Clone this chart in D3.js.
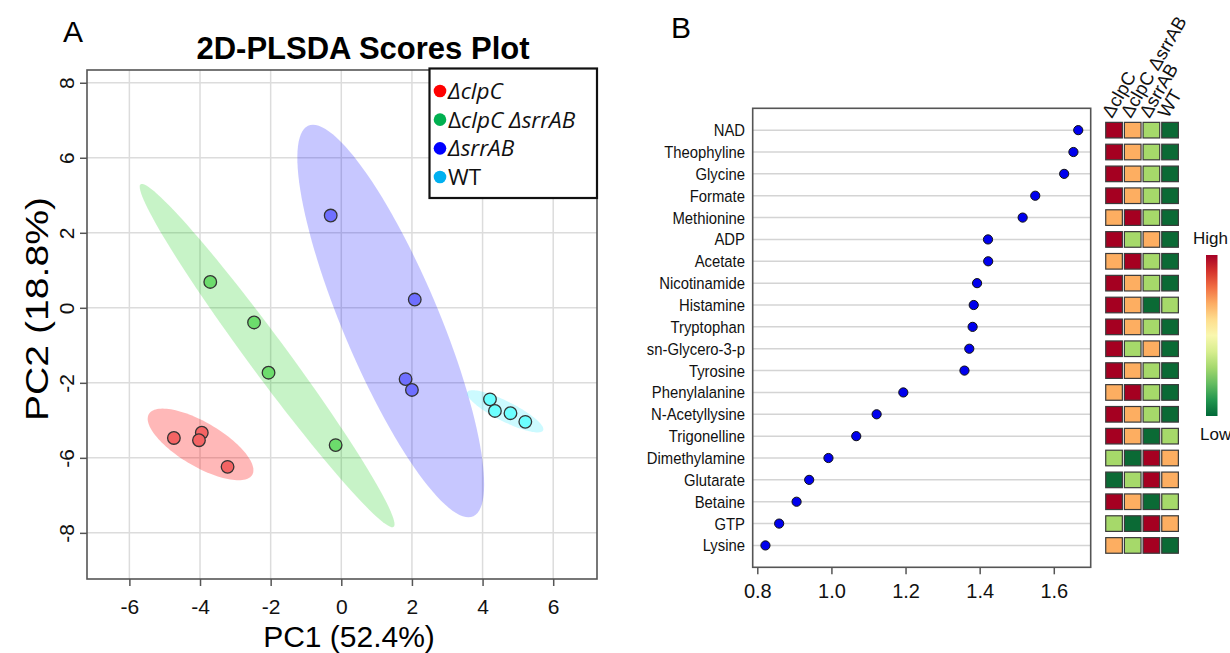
<!DOCTYPE html>
<html><head><meta charset="utf-8">
<script src="https://cdn.jsdelivr.net/npm/d3@7"></script>
<style>
body{margin:0;background:#fff;}
svg{display:block;font-family:"Liberation Sans",Arial,sans-serif;}
</style></head>
<body><svg id="c" width="1230" height="653"></svg>
<script>
// ---------- Panel A data ----------
const groups = ["ΔclpC", "ΔclpC ΔsrrAB", "ΔsrrAB", "WT"];
const groupColors = ["#ff0000", "#00b050", "#0000ff", "#00b0f0"];
const pointFill = ["#f46464", "#6cdc6c", "#6f6fff", "#6cffff"];
const ellipseFill = ["rgba(255,0,0,0.28)", "rgba(0,200,0,0.22)", "rgba(0,0,255,0.22)", "rgba(0,230,255,0.2)"];
const pointGroup = [0,0,0,0, 1,1,1,1, 2,2,2,2, 3,3,3,3];
const pointPC1 = [-4.74,-3.95,-4.03,-3.22, -3.71,-2.47,-2.06,-0.16, -0.30,2.08,1.82,2.00, 4.21,4.35,4.79,5.21];
const pointPC2 = [-3.47,-3.33,-3.53,-4.24, 0.69,-0.39,-1.73,-3.66, 2.46,0.22,-1.90,-2.19, -2.44,-2.75,-2.81,-3.04];
// 95% ellipse: semi-axes and rotation (data units / degrees)
const ellSemiMajor = [1.673, 5.804, 5.706, 1.189];
const ellSemiMinor = [0.596, 0.527, 1.346, 0.27];
const ellAngle = [-28.55, -51.87, -65.76, -25.24];
const xTicksA = [-6,-4,-2,0,2,4,6];
const yTicksA = [6,4,2,0,-2,-4,-6];
const yTickLabelsA = ["8","6","2","0","-2","-6","-8"];

// ---------- Panel B data ----------
const metabolites = ["NAD","Theophyline","Glycine","Formate","Methionine","ADP","Acetate","Nicotinamide","Histamine","Tryptophan","sn-Glycero-3-p","Tyrosine","Phenylalanine","N-Acetyllysine","Trigonelline","Dimethylamine","Glutarate","Betaine","GTP","Lysine"];
const vipScores = [1.666,1.653,1.628,1.550,1.516,1.4225,1.423,1.393,1.384,1.381,1.372,1.359,1.194,1.122,1.067,0.992,0.940,0.906,0.859,0.822];
const xTicksB = [0.8,1.0,1.2,1.4,1.6];
// heat level per metabolite for [ΔclpC, ΔclpC ΔsrrAB, ΔsrrAB, WT]: 4 = high ... 1 = low
const heatLevels = [
 [4,3,2,1],[4,3,2,1],[4,3,2,1],[4,3,2,1],[3,4,2,1],
 [4,2,3,1],[3,4,2,1],[4,3,2,1],[4,3,1,2],[4,3,2,1],
 [4,2,3,1],[4,3,2,1],[3,4,2,1],[4,3,2,1],[4,3,1,2],
 [2,1,4,3],[1,2,4,3],[4,3,1,2],[2,1,4,3],[3,2,4,1]
];
const heatColors = ["#0b6a35","#a6d96a","#fdae61","#a50021"];

const svg = d3.select("#c");

// ================= Panel A =================
const A = {l:87, r:597, t:70, b:579};
const xA = d3.scaleLinear().domain([-7.2, 7.24]).range([A.l, A.r]);
const yA = d3.scaleLinear().domain([-7.23, 6.34]).range([A.b, A.t]);

svg.append("text").attr("x",63).attr("y",42).attr("font-size",30).text("A");
svg.append("text").attr("x",363).attr("y",59).attr("text-anchor","middle")
  .attr("font-size",31).attr("font-weight","bold").text("2D-PLSDA Scores Plot");

const gA = svg.append("g");
// grid
gA.selectAll(".vg").data(xTicksA).join("line")
  .attr("x1",d=>xA(d)).attr("x2",d=>xA(d)).attr("y1",A.t).attr("y2",A.b)
  .attr("stroke","#dcdcdc").attr("stroke-width",1.5);
gA.selectAll(".hg").data(yTicksA).join("line")
  .attr("y1",d=>yA(d)).attr("y2",d=>yA(d)).attr("x1",A.l).attr("x2",A.r)
  .attr("stroke","#dcdcdc").attr("stroke-width",1.5);

// ellipses
const ellData = groups.map((g,i)=>{
  const idx = pointGroup.map((p,j)=>p===i?j:-1).filter(j=>j>=0);
  const cx = d3.mean(idx, j=>pointPC1[j]);
  const cy = d3.mean(idx, j=>pointPC2[j]);
  const phi = ellAngle[i]*Math.PI/180, a = ellSemiMajor[i], b = ellSemiMinor[i];
  const pts = d3.range(0, 361, 3).map(deg=>{
    const t = deg*Math.PI/180;
    const dx = a*Math.cos(t)*Math.cos(phi) - b*Math.sin(t)*Math.sin(phi);
    const dy = a*Math.cos(t)*Math.sin(phi) + b*Math.sin(t)*Math.cos(phi);
    return [xA(cx+dx), yA(cy+dy)];
  });
  return {i, pts};
});
gA.selectAll(".ell").data(ellData).join("path")
  .attr("d", d=>d3.line().curve(d3.curveLinearClosed)(d.pts))
  .attr("fill", d=>ellipseFill[d.i]).attr("stroke","none");

// points
gA.selectAll(".pt").data(pointPC1.map((v,j)=>j)).join("circle")
  .attr("cx", j=>xA(pointPC1[j])).attr("cy", j=>yA(pointPC2[j])).attr("r",6.3)
  .attr("fill", j=>pointFill[pointGroup[j]]).attr("stroke","#333").attr("stroke-width",1.3);

// frame
gA.append("rect").attr("x",A.l).attr("y",A.t).attr("width",A.r-A.l).attr("height",A.b-A.t)
  .attr("fill","none").attr("stroke","#555").attr("stroke-width",1.6);

// axes
const axB = gA.append("g").attr("transform",`translate(0,${A.b})`)
  .call(d3.axisBottom(xA).tickValues(xTicksA).tickSize(7).tickSizeOuter(0).tickFormat(d3.format("d")));
axB.select(".domain").remove();
axB.selectAll("line").attr("stroke","#555").attr("stroke-width",1.5);
axB.selectAll("text").attr("font-size",21).attr("fill","#111").attr("dy",null).attr("y",35)
  .text(d=>d<0?"-"+Math.abs(d):d);

const axL = gA.append("g").attr("transform",`translate(${A.l},0)`)
  .call(d3.axisLeft(yA).tickValues(yTicksA).tickSize(7).tickSizeOuter(0)
    .tickFormat((d,i)=>yTickLabelsA[i]));
axL.select(".domain").remove();
axL.selectAll("line").attr("stroke","#555").attr("stroke-width",1.5);
axL.selectAll("text").attr("font-size",21).attr("fill","#111")
  .attr("x",null).attr("dy",null).attr("text-anchor","middle")
  .attr("transform","translate(-13,0) rotate(-90)");

svg.append("text").attr("transform","translate(48,309) rotate(-90)").attr("text-anchor","middle")
  .attr("font-size",31).attr("textLength",224).attr("lengthAdjust","spacingAndGlyphs").text("PC2 (18.8%)");
svg.append("text").attr("x",349).attr("y",647).attr("text-anchor","middle")
  .attr("font-size",30).text("PC1 (52.4%)");

// legend
const leg = svg.append("g");
leg.append("rect").attr("x",429.5).attr("y",68.5).attr("width",167.5).attr("height",129.5)
  .attr("fill","#fff").attr("stroke","#111").attr("stroke-width",2.2);
const legY = d3.scalePoint().domain(groups).range([91,177]);
leg.selectAll(".lc").data(groups).join("circle")
  .attr("cx",440).attr("cy",d=>legY(d)).attr("r",6.3)
  .attr("fill",(d,i)=>groupColors[i]);
const legTexts = leg.selectAll(".lt").data(groups).join("text")
  .attr("x",448).attr("y",d=>legY(d)+8).attr("font-size",22.5).attr("fill","#111")
  .attr("font-family","'Open Sans','Liberation Sans',sans-serif");
legTexts.each(function(d){
  const t = d3.select(this);
  if (d === "WT") { t.text(d); return; }
  const parts = d.split(" ");
  parts.forEach((p,k)=>{
    if (k>0) t.append("tspan").text(" ");
    t.append("tspan").attr("font-style", (k===0 && parts.length===1) || k>0 ? "italic" : "normal").text(p[0]);
    t.append("tspan").attr("font-style","italic").text(p.slice(1));
  });
});

// ================= Panel B =================
const B = {l:752.7, r:1090.7, t:108.3, b:567.3};
const xB = d3.scaleLinear().domain([0.7876, 1.6996]).range([B.l, B.r]);
const yB = d3.scalePoint().domain(metabolites).range([B.t, B.b]).padding(1);

svg.append("text").attr("x",671).attr("y",38).attr("font-size",30).text("B");

const gB = svg.append("g");
gB.selectAll(".rg").data(metabolites).join("line")
  .attr("x1",B.l).attr("x2",B.r).attr("y1",d=>yB(d)).attr("y2",d=>yB(d))
  .attr("stroke","#d4d4d4").attr("stroke-width",1.5);
gB.append("rect").attr("x",B.l).attr("y",B.t).attr("width",B.r-B.l).attr("height",B.b-B.t)
  .attr("fill","none").attr("stroke","#555").attr("stroke-width",1.6);
gB.selectAll(".dot").data(metabolites).join("circle")
  .attr("cx",(d,i)=>xB(vipScores[i])).attr("cy",d=>yB(d)).attr("r",4.6)
  .attr("fill","#0000ee").attr("stroke","#111").attr("stroke-width",1);
gB.selectAll(".ml").data(metabolites).join("text")
  .attr("transform",d=>`translate(745,${yB(d)+6}) scale(0.9,1)`).attr("text-anchor","end")
  .attr("font-size",16.5).attr("fill","#111").text(d=>d);

const axBB = gB.append("g").attr("transform",`translate(0,${B.b})`)
  .call(d3.axisBottom(xB).tickValues(xTicksB).tickSize(7).tickSizeOuter(0).tickFormat(d3.format(".1f")));
axBB.select(".domain").remove();
axBB.selectAll("line").attr("stroke","#555").attr("stroke-width",1.5);
axBB.selectAll("text").attr("font-size",20).attr("fill","#111").attr("dy",null).attr("y",31);

// heatmap
const xH = d3.scaleBand().domain(groups).range([1104.7,1179.4]).paddingInner(0.11).paddingOuter(0.055);
const cellH = 15.6;
const hm = svg.append("g");
metabolites.forEach((m,r)=>{
  hm.selectAll(".c"+r).data(groups).join("rect")
    .attr("x",g=>xH(g)).attr("y",yB(m)-cellH/2).attr("width",xH.bandwidth()).attr("height",cellH)
    .attr("fill",(g,c)=>heatColors[heatLevels[r][c]-1]).attr("stroke","#3a3a3a").attr("stroke-width",1.2);
});
hm.selectAll(".hl").data(groups).join("text")
  .attr("transform",g=>`translate(${xH(g)+xH.bandwidth()/2-2},119) rotate(-60)`)
  .attr("font-size",18.5).attr("fill","#111").text(g=>g);

// colour key
const defs = svg.append("defs");
const grad = defs.append("linearGradient").attr("id","rg").attr("x1",0).attr("x2",0).attr("y1",0).attr("y2",1);
d3.range(0,1.0001,0.1).forEach(t=>{
  grad.append("stop").attr("offset",t).attr("stop-color",d3.interpolateRdYlGn(t));
});
svg.append("rect").attr("x",1206).attr("y",255).attr("width",11.5).attr("height",161).attr("fill","url(#rg)");
svg.append("text").attr("x",1193).attr("y",244).attr("font-size",17).attr("fill","#111").text("High");
svg.append("text").attr("x",1200).attr("y",440).attr("font-size",17).attr("fill","#111").text("Low");
</script></body></html>
